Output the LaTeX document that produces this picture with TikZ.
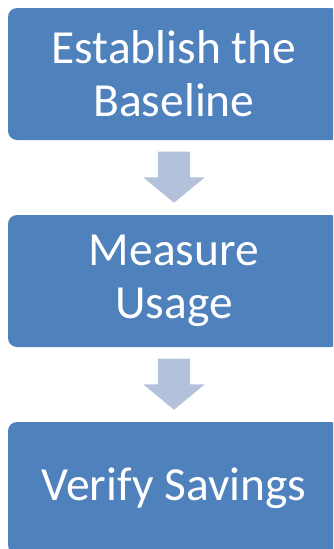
\documentclass[tikz,border=0pt]{standalone}
\usepackage{fontspec}
\setmainfont{Carlito}
\usetikzlibrary{shapes.arrows}

\definecolor{stepBlue}{HTML}{4F81BD}
\definecolor{arrowBlue}{HTML}{B3C1DB}

\begin{document}
\begin{tikzpicture}[x = 1pt, y = -1pt]
	\tikzstyle{stepStyle}=[shape = rectangle, rounded corners = 9pt, fill = stepBlue, text = white, minimum width = 332pt, minimum height = 132pt, inner sep = 0pt, align = center, font = \fontsize{47.5}{53}\selectfont]
	\tikzstyle{downStyle}=[shape = single arrow, rotate = -90, anchor = tip, fill = arrowBlue, inner xsep = 0pt, inner ysep = 16pt, minimum height = 51pt, single arrow head extend = 14.5pt, single arrow tip angle = 101, single arrow head indent = 0pt]
	\useasboundingbox (0, 0) rectangle (333, 549);
	\clip (0, 0) rectangle (333, 549);
	\node[stepStyle] (s0) at (174, 74) {Establish the\\Baseline};
	\node[stepStyle] (s1) at (174, 281) {Measure\\Usage};
	\node[stepStyle] (s2) at (174, 488) {Verify Savings};
	\node[downStyle] (a0) at (174, 203) {};
	\node[downStyle] (a1) at (174, 410) {};
\end{tikzpicture}
\end{document}
